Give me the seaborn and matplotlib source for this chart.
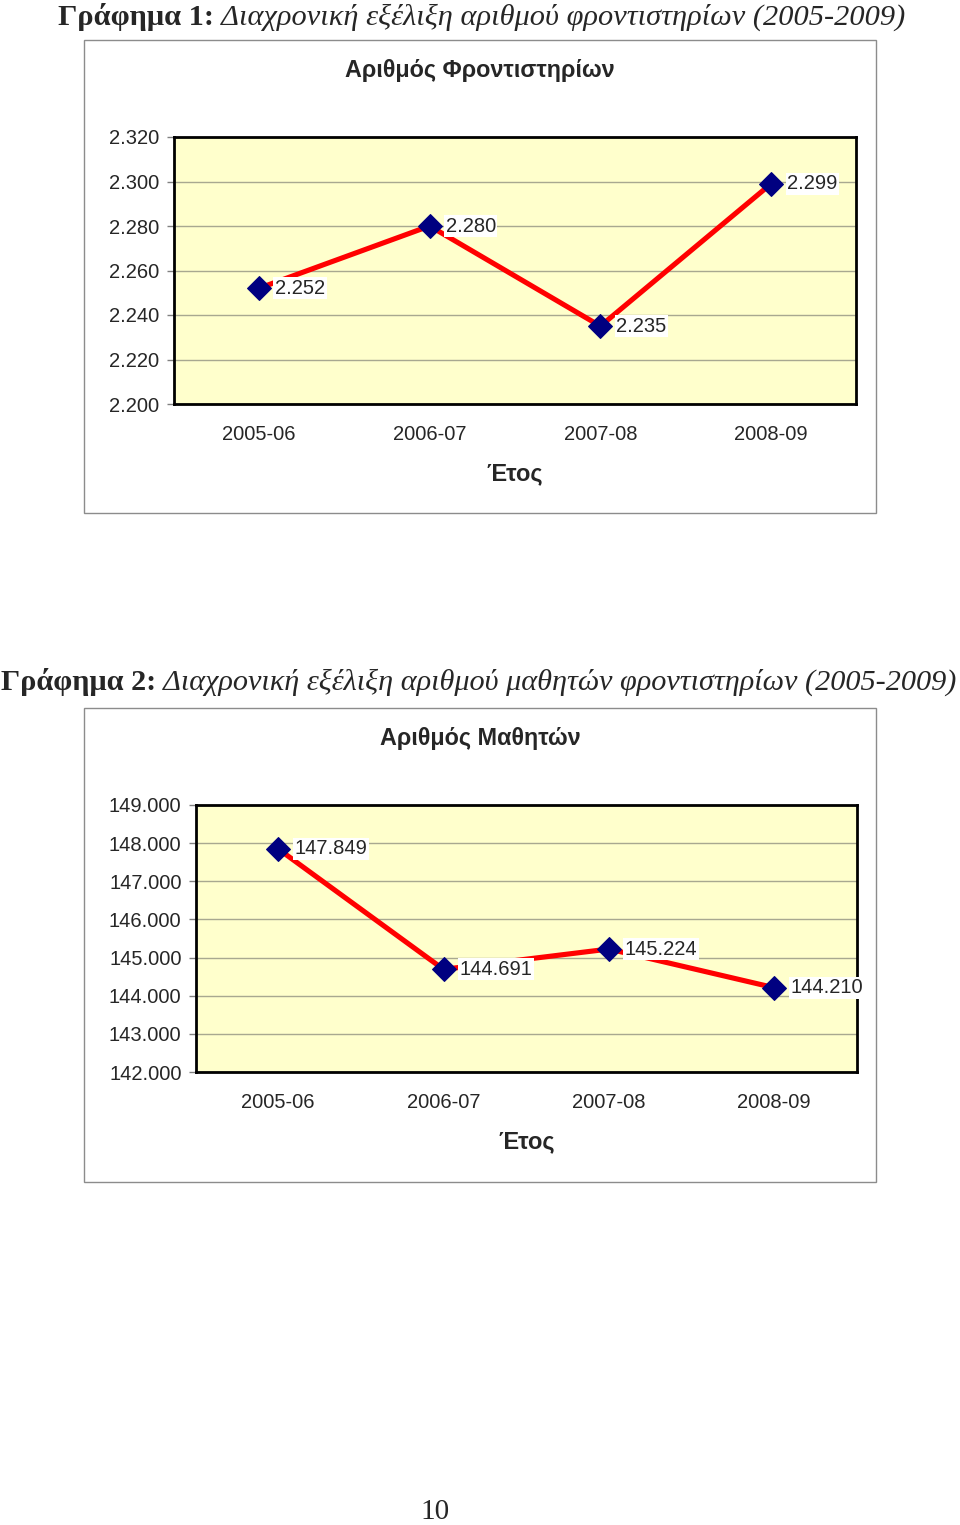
import numpy as np
import pandas as pd
import matplotlib
matplotlib.use('Agg')
import matplotlib.pyplot as plt
import seaborn as sns
from matplotlib.patches import Rectangle
from matplotlib.ticker import FuncFormatter, MultipleLocator

# ---------------- data ----------------
years = ['2005-06', '2006-07', '2007-08', '2008-09']
tutoring_centres = [2252, 2280, 2235, 2299]
students = [147849, 144691, 145224, 144210]

title1 = 'Αριθμός Φροντιστηρίων'
title2 = 'Αριθμός Μαθητών'
xlabel = 'Έτος'
cap1_bold = 'Γράφημα 1:'
cap1_italic = ' Διαχρονική εξέλιξη αριθμού φροντιστηρίων (2005-2009)'
cap2_bold = 'Γράφημα 2:'
cap2_italic = ' Διαχρονική εξέλιξη αριθμού μαθητών φροντιστηρίων (2005-2009)'
page_no = '10'

# ---------------- style ----------------
sns.set_style('white')
plt.rcParams['font.family'] = ['Liberation Sans', 'DejaVu Sans']

W, H = 960, 1525
fig = plt.figure(figsize=(W / 100, H / 100), dpi=100)
renderer = fig.canvas.get_renderer()


def fx(px):
    return px / W


def fy(py):
    return 1 - py / H


def fmt(v):
    return f'{v:,.0f}'.replace(',', '.')


def outer_box(l, t, r, b):
    fig.patches.append(Rectangle((fx(l), fy(b)), (r - l) / W, (b - t) / H,
                                 transform=fig.transFigure, fill=False,
                                 ec='#8c8c8c', lw=1.0, zorder=0))


def caption(x_px, base_px, bold, italic, size):
    t1 = fig.text(fx(x_px), fy(base_px), bold, fontfamily='Liberation Serif',
                  fontweight='bold', fontsize=size, ha='left', va='baseline')
    bb = t1.get_window_extent(renderer)
    fig.text(bb.x1 / W, fy(base_px), italic, fontfamily='Liberation Serif',
             style='italic', fontsize=size, ha='left', va='baseline')


def chart(l, t, r, b, values, ylim, step, title, title_y):
    ax = fig.add_axes([fx(l), fy(b), (r - l) / W, (b - t) / H])
    df = pd.DataFrame({xlabel: years, 'value': values})
    sns.lineplot(data=df, x=xlabel, y='value', ax=ax, sort=False,
                 color='#ff0000', lw=3.7, marker='D', markersize=12.5,
                 markerfacecolor='#000080', markeredgecolor='#000080',
                 zorder=3)
    ax.set_xlim(-0.5, len(years) - 0.5)
    ax.set_ylim(*ylim)
    ax.yaxis.set_major_locator(MultipleLocator(step))
    ax.yaxis.set_major_formatter(FuncFormatter(lambda v, _: fmt(v)))
    ax.set_facecolor('#ffffcc')
    ax.grid(axis='y', color='#a8a890', lw=1.0)
    ax.grid(axis='x', visible=False)
    ax.set_axisbelow(True)
    for s in ax.spines.values():
        s.set_visible(True)
        s.set_color('black')
        s.set_linewidth(2.0)
    ax.tick_params(axis='x', length=0, pad=15, labelsize=14.5)
    ax.tick_params(axis='y', left=True, length=5, color='#808080', width=1,
                   pad=5, labelsize=14.5)
    ax.set_xlabel(xlabel, fontweight='bold', fontsize=17, labelpad=13)
    ax.set_ylabel('')
    for cat, v in zip(years, values):
        ax.annotate(fmt(v), xy=(cat, v), xytext=(16, 0),
                    textcoords='offset pixels', ha='left', va='center',
                    fontsize=14.5, zorder=5,
                    bbox=dict(boxstyle='square,pad=0.08', fc='white', ec='none'))
    fig.text(0.5, fy(title_y), title, ha='center', va='center',
             fontweight='bold', fontsize=16.8)
    return ax


# chart 1
caption(58, 25, cap1_bold, cap1_italic, 21.9)
outer_box(84, 40, 876, 513)
chart(173.5, 137, 856.5, 404, tutoring_centres, (2200, 2320), 20, title1, 70)

# chart 2
caption(1, 690, cap2_bold, cap2_italic, 21.75)
outer_box(84, 708, 876, 1182)
chart(195.5, 805, 857, 1072, students, (142000, 149000), 1000, title2, 738)

fig.text(fx(435), fy(1519), page_no, fontfamily='Liberation Serif',
         fontsize=21, ha='center', va='baseline')

fig.savefig('out.png', dpi=100, facecolor='white')
